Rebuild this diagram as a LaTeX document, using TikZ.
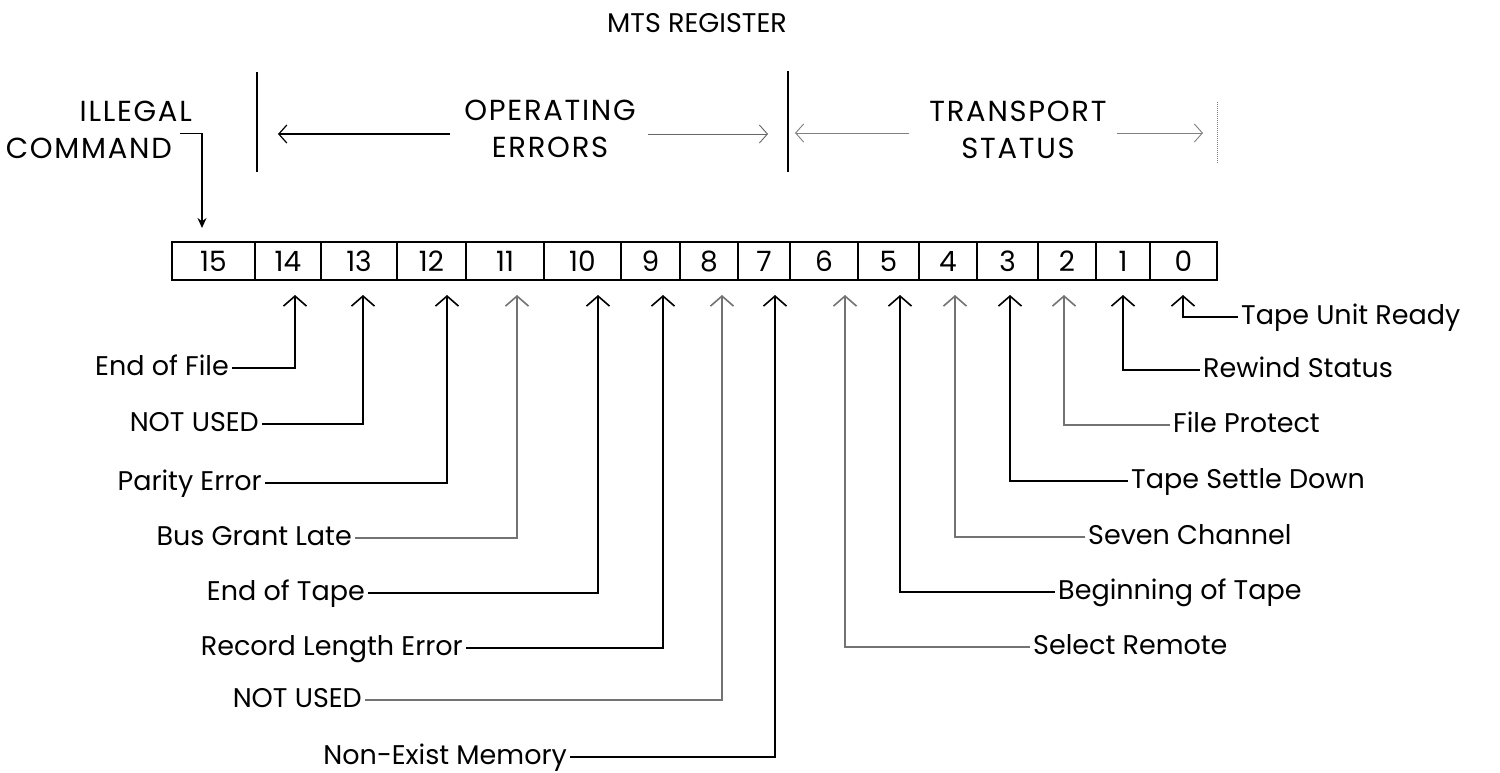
\documentclass[tikz,border=0pt]{standalone}
\usepackage{fontspec}
\setmainfont{Poppins}
\usetikzlibrary{positioning,arrows.meta,calc}

\tikzset{
  cell/.style={draw, line width=1.3pt, minimum height=37pt, inner sep=0pt,
    font=\fontsize{28}{28}\selectfont},
  lbl/.style={inner xsep=3pt, inner ysep=0pt, text height=14pt, text depth=0pt,
    font=\fontsize{27}{27}\selectfont},
  grouptxt/.style={align=center, inner sep=2pt,
    font=\fontsize{29}{37}\selectfont\addfontfeatures{LetterSpace=6}},
  wire/.style={line width=1.5pt,
    -{Straight Barb[length=10pt,width=23pt,line width=1.6pt]}},
  wirefaint/.style={wire, draw=black!55, line width=1.1pt},
  rangeptr/.style={line width=1.2pt, -{Straight Barb[length=8pt,width=18pt]}},
}

\begin{document}
\begin{tikzpicture}[x=1pt,y=-1pt]
  \useasboundingbox (0,0) rectangle (1500,772);
  \fill[white] (0,0) rectangle (1500,772);

  % titre
  \node[font=\fontsize{27}{27}\selectfont] (mts) at (697,23) {MTS REGISTER};

  % les 16 bits du registre
  \foreach \b/\l/\r in {15/172/255, 14/255/321, 13/321/397, 12/397/466,
      11/466/544, 10/544/621, 9/621/680, 8/680/738, 7/738/790, 6/790/858,
      5/858/919, 4/919/977, 3/977/1038, 2/1038/1096, 1/1096/1150, 0/1150/1217}
    \node[cell, minimum width={(\r-\l)*1pt}] (b\b) at ({(\l+\r)/2},261) {\b};
  \draw[line width=2pt] (b15.north west) -- (b0.north east);
  \draw[line width=2pt] (b15.south west) -- (b0.south east);

  % groupes au-dessus
  \node[grouptxt, anchor=base east, inner sep=0pt] (illegal) at (192,121) {ILLEGAL};
  \node[grouptxt, anchor=base east, inner sep=0pt] (command) at (172,158) {COMMAND};
  \coordinate (t15) at (202,228);
  \draw[line width=1.5pt, -{Stealth[length=10pt,width=9pt]}]
    ($(command.north east)+(8,-4)$) -| (t15);

  \draw[line width=1.1pt] (257,72) -- (257,172);
  \draw[line width=1.3pt] (788,71) -- (788,172);
  \draw[line width=1pt, black!50, densely dotted] (1217,102) -- (1217,163);

  \node[grouptxt] (operr) at (550,129) {OPERATING\\ERRORS};
  \coordinate (oeL) at (278,134);
  \coordinate (oeR) at (768,134);
  \draw[rangeptr] ($(operr.west |- oeL)+(-12,0)$) -- (oeL);
  \draw[rangeptr, black!60, line width=0.9pt] ($(operr.east |- oeR)+(10,0)$) -- (oeR);

  \node[grouptxt] (trans) at (1018,130) {TRANSPORT\\STATUS};
  \coordinate (tsL) at (795,133);
  \coordinate (tsR) at (1203,133);
  \draw[rangeptr, black!50, line width=0.9pt] ($(trans.west |- tsL)+(-18,0)$) -- (tsL);
  \draw[rangeptr, black!50, line width=0.9pt] ($(trans.east |- tsR)+(8,0)$) -- (tsR);

  % libelles a gauche
  \foreach \b/\x/\y/\v/\s/\t in {14/232/368/295/wire/End of File,
      13/262/424/363/wire/NOT USED, 12/265/483/447/wire/Parity Error,
      11/355/538/517/wirefaint/Bus Grant Late, 10/368/593/598/wire/End of Tape,
      9/466/648/663/wire/Record Length Error, 8/365/700/722/wirefaint/NOT USED,
      7/570/757/775/wire/Non-Exist Memory} {
    \node[lbl, anchor=east] (l\b) at (\x,\y) {\t};
    \coordinate (t\b) at (\v,295);
    \draw[\s] (l\b.east) -| (t\b);
  }

  % libelles a droite
  \foreach \b/\x/\y/\v/\s/\t in {0/1238/317/1183/wire/Tape Unit Ready,
      1/1200/370/1123/wire/Rewind Status, 2/1170/425/1064/wirefaint/File Protect,
      3/1128/481/1010/wire/Tape Settle Down, 4/1085/537/955/wirefaint/Seven Channel,
      5/1055/592/900/wire/Beginning of Tape, 6/1030/647/845/wirefaint/Select Remote} {
    \node[lbl, anchor=west] (l\b) at (\x,\y) {\t};
    \coordinate (t\b) at (\v,295);
    \draw[\s] (l\b.west) -| (t\b);
  }
\end{tikzpicture}
\end{document}
